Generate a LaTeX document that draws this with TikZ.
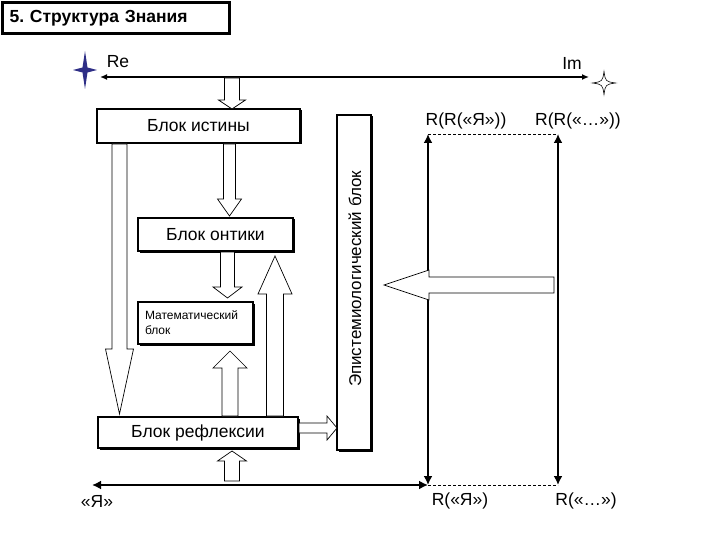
\documentclass[tikz,border=0pt]{standalone}
\usepackage{fontspec}
\setmainfont{Liberation Sans}
\usetikzlibrary{arrows.meta, calc, shadows}
\definecolor{starblue}{HTML}{2E2E86}

\begin{document}
\begin{tikzpicture}[x=1pt, y=-1pt,
    blok/.style={draw, line width=2pt, fill=white, inner sep=0pt, align=center,
      general shadow={fill=black, shadow xshift=1.5pt, shadow yshift=-1.5pt},
      font=\fontsize{17.5}{20}\selectfont},
    fatarrow/.style n args={3}{draw, line width=0.7pt, fill=white, to path={
      let \p1=(\tikztostart), \p2=(\tikztotarget), \p3=($(\p2)!#3!(\p1)$) in
      ($(\p1)!#1!90:(\p2)$) -- ($(\p3)!#1!90:(\p2)$) -- ($(\p3)!#2!90:(\p2)$) -- (\p2)
      -- ($(\p3)!#2!-90:(\p2)$) -- ($(\p3)!#1!-90:(\p2)$) -- ($(\p1)!#1!-90:(\p2)$) -- cycle}},
    rline/.style={line width=2.6pt, >={Latex[length=9pt,width=9pt]}, <->},
    axisline/.style={line width=1.3pt, >={Latex[length=7pt,width=6pt]}, <->},
    levelline/.style={line width=0.8pt, dash pattern=on 3pt off 2pt},
    lbl/.style={font=\fontsize{17.5}{20}\selectfont, inner sep=1pt}
  ]
    \useasboundingbox (0,0) rectangle (720,540);

    \node[draw, line width=2.5pt, anchor=north west, minimum height=31pt, text width=213pt,
      inner xsep=7pt, font=\bfseries\fontsize{17.5}{20}\selectfont] (title) at (1.3,1.3) {5.\ Структура Знания};

    \node[blok, minimum width=203pt, minimum height=34pt] (istina) at (198.5,126) {Блок истины};
    \node[blok, minimum width=155pt, minimum height=33pt] (ontika) at (215.5,234.5) {Блок онтики};
    \node[blok, minimum width=115pt, minimum height=42pt, text width=101pt, inner xsep=7pt,
      align=left, font=\fontsize{12}{15}\selectfont] (matem) at (195.5,323) {Математический\\блок};
    \node[blok, minimum width=200pt, minimum height=31pt] (reflex) at (198,432.5) {Блок рефлексии};
    \node[blok, minimum width=34pt, minimum height=335pt] (epist) at (354,282.5) {};
    \node[rotate=90, font=\fontsize{17}{20}\selectfont] (epistlbl) at (355,279) {Эпистемиологический блок};

    \node[lbl] (re) at (118,62) {Re};
    \node[lbl] (im) at (572,63) {Im};
    \node[lbl] (lrrya) at (466,121) {R(R(«Я»))};
    \node[lbl] (lrrdots) at (578,121) {R(R(«…»))};
    \node[lbl] (lya) at (97,501) {«Я»};
    \node[lbl] (lrya) at (460,501) {R(«Я»)};
    \node[lbl] (lrdots) at (586,501) {R(«…»)};

    \coordinate (reend) at (100,77);
    \coordinate (imend) at (589,77);
    \coordinate (ya) at (92,485);
    \coordinate (rya) at (428,485);
    \coordinate (rdots) at (558,485);
    \coordinate (rrya) at (428,134);
    \coordinate (rrdots) at (558,134);

    \begin{scope}[shift={(85,70)}]
      \fill[starblue] (0,-19) -- (2.5,-2.5) -- (12,0) -- (2.5,2.5) -- (0,19) -- (-2.5,2.5) -- (-12,0) -- (-2.5,-2.5) -- cycle;
    \end{scope}
    \begin{scope}[shift={(604,83)}]
      \draw[line width=0.6pt] (0,-11.5) .. controls (1.5,-1.5) .. (11.5,0) .. controls (1.5,1.5) .. (0,11.5)
        .. controls (-1.5,1.5) .. (-11.5,0) .. controls (-1.5,-1.5) .. cycle;
    \end{scope}

    \draw[axisline] (reend) -- (imend);
    \draw[levelline] (rrya) -- (rrdots);
    \draw[levelline] (rya) -- (rdots);
    \draw[rline] (rya) -- (rrya);
    \draw[rline] (rdots) -- (rrdots);
    \draw[rline] (ya) -- (rya);

    \draw[fatarrow={7.5pt}{13.5pt}{9pt}] ($(istina.north)+(33.5,-30)$) to ($(istina.north)+(33.5,1)$);
    \draw[fatarrow={6pt}{12pt}{17pt}] ($(istina.south)+(31,0)$) to ($(ontika.north)+(14,-1)$);
    \draw[fatarrow={7pt}{14.5pt}{11pt}] ($(ontika.south)+(12,0)$) to ($(matem.north)+(32,-3)$);
    \draw[fatarrow={7.5pt}{14pt}{65pt}] ($(istina.south)+(-79,0)$) to ($(reflex.north)+(-78.5,-2)$);
    \draw[fatarrow={8pt}{17pt}{17pt}] ($(reflex.north)+(32,0)$) to ($(matem.south)+(34.5,6)$);
    \draw[fatarrow={8.5pt}{17pt}{38pt}] ($(reflex.north)+(77,0)$) to ($(ontika.south)+(59.5,4)$);
    \draw[fatarrow={5pt}{12pt}{10pt}] ($(reflex.east)+(0,-4.5)$) to ($(reflex.east -| epist.west)+(1,-4.5)$);
    \draw[fatarrow={7.5pt}{14.5pt}{10pt}] ($(reflex.south)+(34,32)$) to ($(reflex.south)+(34,2)$);
    \draw[fatarrow={8pt}{15pt}{45pt}] ($(epist.east)+(182,2.5)$) to ($(epist.east)+(12,2.5)$);
  \end{tikzpicture}
\end{document}
